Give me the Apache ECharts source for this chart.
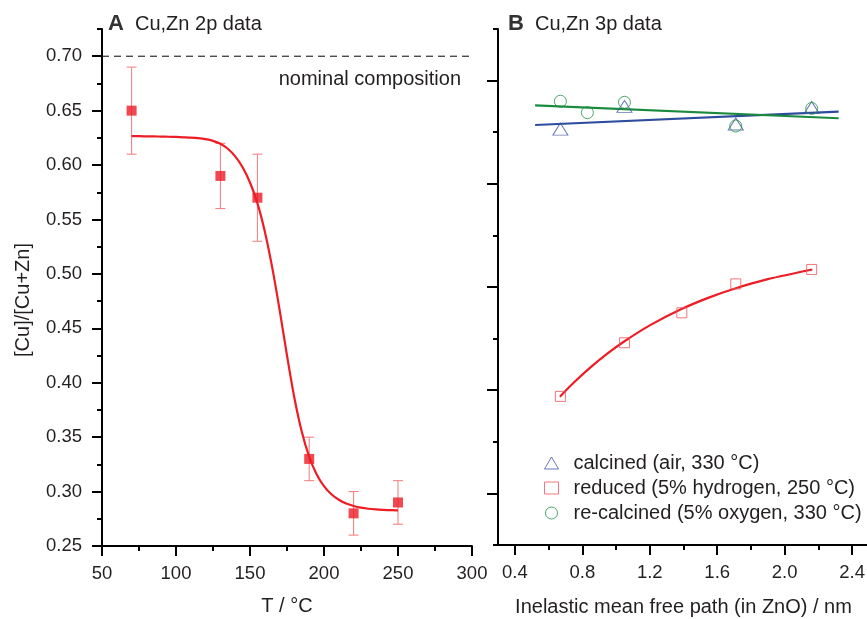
<!DOCTYPE html>
<html>
<head>
<meta charset="utf-8">
<script src="https://cdn.jsdelivr.net/npm/echarts@6/dist/echarts.min.js"></script>
<style>
  html, body { margin: 0; padding: 0; background: #fff; }
  #chart { width: 867px; height: 619px; }
</style>
</head>
<body>
<div id="chart"></div>
<script>
// ---------- Panel A: Cu,Zn 2p data ----------
const tempA   = [70, 130, 155, 190, 220, 250];
const ratioA  = [0.65, 0.59, 0.57, 0.33, 0.28, 0.29];
const errLoA  = [0.61, 0.56, 0.53, 0.31, 0.26, 0.27];
const errHiA  = [0.69, 0.62, 0.61, 0.35, 0.30, 0.31];
// fitted sigmoid, every 5 °C
const fitAx = [70, 75, 80, 85, 90, 95, 100, 105, 110, 115, 120, 125, 130, 135, 140, 145, 150, 155, 160,
               165, 170, 175, 180, 185, 190, 195, 200, 205, 210, 215, 220, 225, 230, 235, 240, 245, 250];
const fitAy = [0.6265, 0.6265, 0.6264, 0.6263, 0.6262, 0.6260, 0.6258, 0.6255, 0.6252, 0.6247, 0.6238, 0.6222,
               0.6195, 0.6150, 0.6080, 0.5980, 0.5840, 0.5650, 0.5390, 0.5060, 0.4670, 0.4250, 0.3860, 0.3550,
               0.3320, 0.3160, 0.3050, 0.2975, 0.2925, 0.2890, 0.2868, 0.2852, 0.2842, 0.2836, 0.2832, 0.2829, 0.2828];
// nominal composition (dashed line, extends across into panel B)
const nominalX = [50, 523];
const nominalY = [0.70, 0.70];

const xTicksA = [50, 100, 150, 200, 250, 300];
const yTicksA = [0.25, 0.30, 0.35, 0.40, 0.45, 0.50, 0.55, 0.60, 0.65, 0.70];
const yMinorA = [0.275, 0.325, 0.375, 0.425, 0.475, 0.525, 0.575, 0.625, 0.675, 0.725];

// ---------- Panel B: Cu,Zn 3p data ----------
const imfpCalc   = [0.67, 1.05, 1.71, 2.16];
const ratioCalc  = [0.653, 0.675, 0.658, 0.674];
const imfpRed    = [0.67, 1.05, 1.39, 1.71, 2.16];
const ratioRed   = [0.394, 0.446, 0.475, 0.503, 0.517];
const imfpReCalc = [0.67, 0.83, 1.05, 1.71, 2.16];
const ratioReCalc= [0.680, 0.669, 0.679, 0.656, 0.673];

const fitBlueX  = [0.52, 2.32];
const fitBlueY  = [0.657, 0.670];
const fitGreenX = [0.52, 2.32];
const fitGreenY = [0.676, 0.6635];
const fitRedX   = [0.667, 0.75, 0.85, 0.95, 1.05, 1.2, 1.385, 1.55, 1.706, 1.9, 2.164];
const fitRedY   = [0.3937, 0.4074, 0.4223, 0.4356, 0.4474, 0.4628, 0.4784, 0.4897, 0.4986, 0.5076, 0.5170];

const xTicksB = [0.4, 0.8, 1.2, 1.6, 2.0, 2.4];
const xMinorB = [0.6, 1.0, 1.4, 1.8, 2.2];
const yTicksB = [0.3, 0.4, 0.5, 0.6, 0.7];
const yMinorB = [0.25, 0.35, 0.45, 0.55, 0.65, 0.75];

const legendNames = ['calcined (air, 330 °C)', 'reduced (5% hydrogen, 250 °C)', 're-calcined (5% oxygen, 330 °C)'];

// ---------- styles ----------
const FONT = "'Liberation Sans', Arial, Helvetica, sans-serif";
const TXT = '#231f20';
const RED = '#ee1c25';
const ERR = '#f37a7a';
const BLUE = '#3f56a8';
const GREEN = '#23914a';
const BLUE_LINE = '#2e4c9e';
const GREEN_LINE = '#1a8a3c';
const RED_OPEN = '#ef5560';
const TICK_FS = 18.5;
const TEXT_FS = 20;

const zip = (a, b) => a.map((v, i) => [v, b[i]]);

function majorAxis(extra) {
  return Object.assign({
    type: 'value',
    axisLine: { show: true, onZero: false, lineStyle: { color: '#000', width: 2 } },
    axisTick: { show: true, inside: false, length: 10, lineStyle: { color: '#000', width: 2 } },
    axisLabel: { color: TXT, fontSize: TICK_FS, fontFamily: FONT },
    splitLine: { show: false },
    minorSplitLine: { show: false }
  }, extra);
}
function minorAxis(extra) {
  return Object.assign({
    type: 'value',
    axisLine: { show: false, onZero: false },
    axisTick: { show: true, inside: false, length: 5, lineStyle: { color: '#000', width: 2 } },
    axisLabel: { show: false },
    splitLine: { show: false }
  }, extra);
}

const chart = echarts.init(document.getElementById('chart'), null, { renderer: 'canvas' });

const option = {
  animation: false,
  backgroundColor: '#fff',
  textStyle: { fontFamily: FONT },
  grid: [
    { left: 102, top: 29, width: 370, height: 517, outerBoundsMode: 'none' },
    { left: 498, top: 29, width: 371, height: 516, outerBoundsMode: 'none' }
  ],
  xAxis: [
    majorAxis({
      gridIndex: 0, position: 'bottom', min: 50, max: 300, interval: 50,
      minorTick: { show: true, splitNumber: 2, length: 5, lineStyle: { color: '#000', width: 2 } },
      axisLabel: { color: TXT, fontSize: TICK_FS, fontFamily: FONT, margin: 18, customValues: xTicksA },
      name: 'T / °C', nameLocation: 'middle', nameGap: 50,
      nameTextStyle: { color: TXT, fontSize: TEXT_FS, fontFamily: FONT }
    }),
    majorAxis({
      gridIndex: 1, position: 'bottom', min: 0.3, max: 2.5,
      axisTick: { show: true, inside: false, length: 10, customValues: xTicksB, lineStyle: { color: '#000', width: 2 } },
      axisLabel: { color: TXT, fontSize: TICK_FS, fontFamily: FONT, margin: 18, customValues: xTicksB,
                   formatter: v => v.toFixed(1) },
      name: 'Inelastic mean free path (in ZnO) / nm', nameLocation: 'middle', nameGap: 52,
      nameTextStyle: { color: TXT, fontSize: TEXT_FS, fontFamily: FONT }
    }),
    minorAxis({
      gridIndex: 1, position: 'bottom', min: 0.3, max: 2.5,
      axisTick: { show: true, inside: false, length: 5, customValues: xMinorB, lineStyle: { color: '#000', width: 2 } }
    })
  ],
  yAxis: [
    majorAxis({
      gridIndex: 0, position: 'left', min: 0.25, max: 0.725,
      axisTick: { show: true, inside: false, length: 10, customValues: yTicksA, lineStyle: { color: '#000', width: 2 } },
      axisLabel: { color: TXT, fontSize: TICK_FS, fontFamily: FONT, margin: 20, customValues: yTicksA,
                   formatter: v => v.toFixed(2) }
    }),
    minorAxis({
      gridIndex: 0, position: 'left', min: 0.25, max: 0.725,
      axisTick: { show: true, inside: false, length: 5, customValues: yMinorA, lineStyle: { color: '#000', width: 2 } }
    }),
    majorAxis({
      gridIndex: 1, position: 'left', min: 0.25, max: 0.75,
      axisTick: { show: true, inside: false, length: 11, customValues: yTicksB, lineStyle: { color: '#000', width: 2 } },
      axisLabel: { show: false }
    }),
    minorAxis({
      gridIndex: 1, position: 'left', min: 0.25, max: 0.75,
      axisTick: { show: true, inside: false, length: 5, customValues: yMinorB, lineStyle: { color: '#000', width: 2 } }
    })
  ],
  legend: {
    orient: 'vertical', left: 539, top: 447, selectedMode: false,
    itemWidth: 14, itemHeight: 12, itemGap: 3,
    textStyle: { color: TXT, fontSize: TEXT_FS, fontFamily: FONT, lineHeight: 22, padding: [0, 0, 0, 10] },
    data: [
      { name: legendNames[0], icon: 'triangle', itemStyle: { color: 'rgba(0,0,0,0)', borderColor: BLUE, borderWidth: 1 } },
      { name: legendNames[1], icon: 'rect', itemStyle: { color: 'rgba(0,0,0,0)', borderColor: RED_OPEN, borderWidth: 1 } },
      { name: legendNames[2], icon: 'circle', itemStyle: { color: 'rgba(0,0,0,0)', borderColor: GREEN, borderWidth: 1 } }
    ]
  },
  graphic: [
    { type: 'text', left: 108, top: 13, style: { text: 'A', fontSize: 22, fontWeight: 'bold', fontFamily: FONT, fill: '#333' } },
    { type: 'text', left: 135, top: 14, style: { text: 'Cu,Zn 2p data', fontSize: TEXT_FS, fontFamily: FONT, fill: TXT } },
    { type: 'text', left: 508, top: 13, style: { text: 'B', fontSize: 22, fontWeight: 'bold', fontFamily: FONT, fill: '#333' } },
    { type: 'text', left: 535, top: 14, style: { text: 'Cu,Zn 3p data', fontSize: TEXT_FS, fontFamily: FONT, fill: TXT } },
    { type: 'text', x: 461, y: 79, style: { text: 'nominal composition', fontSize: TEXT_FS, fontFamily: FONT, fill: TXT,
        textAlign: 'right', textVerticalAlign: 'middle' } },
    { type: 'text', x: 23.5, y: 300, rotation: Math.PI / 2,
      style: { text: '[Cu]/[Cu+Zn]', fontSize: TEXT_FS, fontFamily: FONT, fill: TXT, textAlign: 'center', textVerticalAlign: 'middle' } }
  ],
  series: [
    // ----- A -----
    {
      name: 'nominal', type: 'line', xAxisIndex: 0, yAxisIndex: 0, clip: false,
      data: zip(nominalX, nominalY), showSymbol: false, silent: true,
      lineStyle: { color: '#000', width: 1, type: [7, 5] }, z: 1
    },
    {
      name: 'errA', type: 'custom', xAxisIndex: 0, yAxisIndex: 0,
      data: tempA.map((t, i) => [t, errLoA[i], errHiA[i]]),
      encode: { x: 0, y: [1, 2] },
      renderItem: function (params, api) {
        const x = api.value(0);
        const lo = api.coord([x, api.value(1)]);
        const hi = api.coord([x, api.value(2)]);
        const hw = 5;
        const st = { stroke: ERR, lineWidth: 1 };
        return {
          type: 'group',
          children: [
            { type: 'line', shape: { x1: lo[0], y1: lo[1], x2: hi[0], y2: hi[1] }, style: st },
            { type: 'line', shape: { x1: lo[0] - hw, y1: lo[1], x2: lo[0] + hw, y2: lo[1] }, style: st },
            { type: 'line', shape: { x1: hi[0] - hw, y1: hi[1], x2: hi[0] + hw, y2: hi[1] }, style: st }
          ]
        };
      },
      z: 2
    },
    {
      name: 'fitA', type: 'line', xAxisIndex: 0, yAxisIndex: 0,
      data: zip(fitAx, fitAy), smooth: 0.3, showSymbol: false,
      lineStyle: { color: RED, width: 2.2 }, z: 3
    },
    {
      name: 'ptsA', type: 'scatter', xAxisIndex: 0, yAxisIndex: 0,
      data: zip(tempA, ratioA), symbol: 'rect', symbolSize: 10,
      itemStyle: { color: RED }, z: 4
    },
    // ----- B -----
    {
      name: 'fitRed', type: 'line', xAxisIndex: 1, yAxisIndex: 2,
      data: zip(fitRedX, fitRedY), smooth: 0.3, showSymbol: false,
      lineStyle: { color: RED, width: 2.2 }, z: 3
    },
    {
      name: 'fitBlue', type: 'line', xAxisIndex: 1, yAxisIndex: 2,
      data: zip(fitBlueX, fitBlueY), showSymbol: false,
      lineStyle: { color: BLUE_LINE, width: 2.2 }, z: 3
    },
    {
      name: 'fitGreen', type: 'line', xAxisIndex: 1, yAxisIndex: 2,
      data: zip(fitGreenX, fitGreenY), showSymbol: false,
      lineStyle: { color: GREEN_LINE, width: 2.2 }, z: 3
    },
    {
      name: legendNames[0], type: 'scatter', xAxisIndex: 1, yAxisIndex: 2,
      data: zip(imfpCalc, ratioCalc), symbol: 'triangle', symbolSize: [15, 12],
      itemStyle: { color: 'rgba(0,0,0,0)', borderColor: BLUE, borderWidth: 1 }, z: 4
    },
    {
      name: legendNames[1], type: 'scatter', xAxisIndex: 1, yAxisIndex: 2,
      data: zip(imfpRed, ratioRed), symbol: 'rect', symbolSize: 10,
      itemStyle: { color: 'rgba(0,0,0,0)', borderColor: RED_OPEN, borderWidth: 1 }, z: 4
    },
    {
      name: legendNames[2], type: 'scatter', xAxisIndex: 1, yAxisIndex: 2,
      data: zip(imfpReCalc, ratioReCalc), symbol: 'circle', symbolSize: 12,
      itemStyle: { color: 'rgba(0,0,0,0)', borderColor: GREEN, borderWidth: 1 }, z: 4
    }
  ]
};

chart.setOption(option);
</script>
</body>
</html>
